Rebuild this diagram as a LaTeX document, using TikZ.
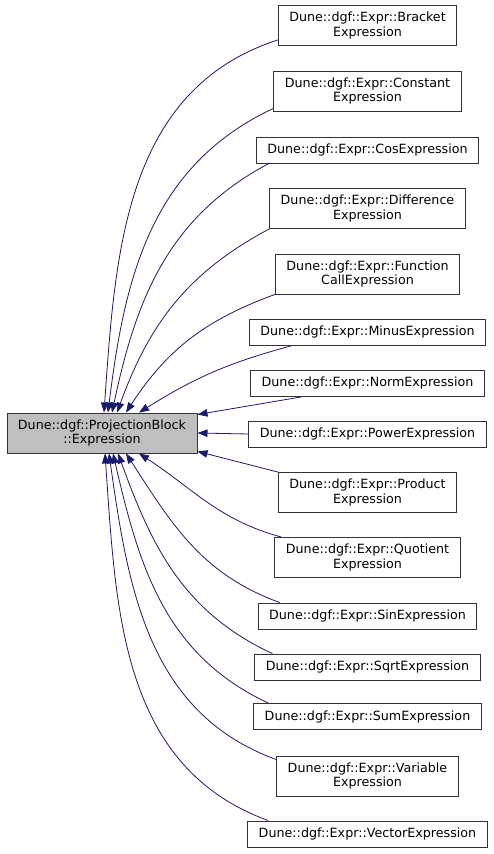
\documentclass[tikz,border=0pt]{standalone}
\usepackage{fontspec}
\setmainfont{DejaVu Sans}
\usetikzlibrary{arrows.meta}
\definecolor{edgeblue}{RGB}{25,25,112}
\definecolor{basegray}{RGB}{191,191,191}

\begin{document}
\begin{tikzpicture}[x=1pt,y=1pt,
    cls/.style={draw=black!80, line width=0.9pt, fill=white, inner xsep=11pt, inner ysep=2pt,
      minimum height=26pt, align=center, font=\fontsize{12.7}{14.6}\selectfont},
    cls2/.style={cls, minimum height=40pt},
    edge/.style={draw=edgeblue, line width=0.8pt, -{Triangle[length=10pt,width=7.5pt]}}]
  \useasboundingbox (0,0) rectangle (493,854);
  \node[cls2, fill=basegray] (base) at (102,421) {Dune::dgf::ProjectionBlock\\::Expression};
  \node[cls2] (bracket) at (367.5,828.5) {Dune::dgf::Expr::Bracket\\Expression};
  \node[cls2] (constant) at (367.5,763) {Dune::dgf::Expr::Constant\\Expression};
  \node[cls] (cos) at (367.5,704) {Dune::dgf::Expr::CosExpression};
  \node[cls2] (difference) at (367.5,645.5) {Dune::dgf::Expr::Difference\\Expression};
  \node[cls2] (funccall) at (367.5,580) {Dune::dgf::Expr::Function\\CallExpression};
  \node[cls] (minus) at (367.5,521.5) {Dune::dgf::Expr::MinusExpression};
  \node[cls] (norm) at (367.5,470.5) {Dune::dgf::Expr::NormExpression};
  \node[cls] (power) at (367.5,420) {Dune::dgf::Expr::PowerExpression};
  \node[cls2] (product) at (367.5,361.5) {Dune::dgf::Expr::Product\\Expression};
  \node[cls2] (quotient) at (367.5,296.5) {Dune::dgf::Expr::Quotient\\Expression};
  \node[cls] (sin) at (367.5,238) {Dune::dgf::Expr::SinExpression};
  \node[cls] (sqrt) at (367.5,187) {Dune::dgf::Expr::SqrtExpression};
  \node[cls] (sum) at (367.5,137.5) {Dune::dgf::Expr::SumExpression};
  \node[cls2] (variable) at (367.5,78) {Dune::dgf::Expr::Variable\\Expression};
  \node[cls] (vector) at (367.5,20) {Dune::dgf::Expr::VectorExpression};

  \draw[edge] ([yshift=6pt]bracket.south west) to[out=198,in=86] ([xshift=2pt]base.north);
  \draw[edge] ([yshift=3pt]constant.south west) to[out=205,in=83] ([xshift=6pt]base.north);
  \draw[edge] ([xshift=13pt]cos.south west) to[out=208,in=78] ([xshift=10pt]base.north);
  \draw[edge] (difference.south west) to[out=208,in=70] ([xshift=15pt]base.north);
  \draw[edge] (funccall.south west) to[out=200,in=57] ([xshift=24pt]base.north);
  \draw[edge] ([xshift=42pt]minus.south west) to[out=195,in=32] ([xshift=37pt]base.north);
  \draw[edge] ([xshift=51pt]norm.south west) -- ([yshift=-2pt]base.north east);
  \draw[edge] (power.west) -- (base.east);
  \draw[edge] (product.north west) -- ([yshift=2pt]base.south east);
  \draw[edge] ([xshift=7pt]quotient.north west) to[out=165,in=-33] ([xshift=37pt]base.south);
  \draw[edge] ([xshift=22pt]sin.north west) to[out=160,in=-57] ([xshift=24pt]base.south);
  \draw[edge] ([xshift=18pt]sqrt.north west) to[out=155,in=-70] ([xshift=16pt]base.south);
  \draw[edge] ([xshift=15pt]sum.north west) to[out=155,in=-77] ([xshift=11pt]base.south);
  \draw[edge] ([yshift=-4pt]variable.north west) to[out=160,in=-82] ([xshift=7pt]base.south);
  \draw[edge] ([xshift=21pt]vector.north west) to[out=160,in=-86] ([xshift=3pt]base.south);
\end{tikzpicture}
\end{document}
